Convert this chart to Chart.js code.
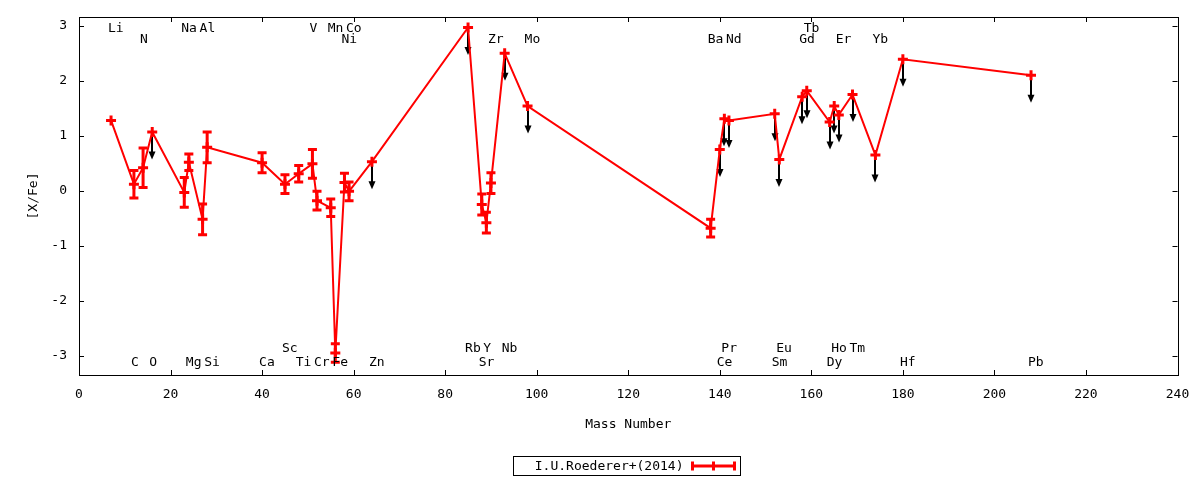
<!DOCTYPE html>
<html>
<head>
<meta charset="utf-8">
<script src="https://cdn.jsdelivr.net/npm/chart.js@4.4.1/dist/chart.umd.min.js"></script>
<style>
  body { margin: 0; background: #fff; }
</style>
</head>
<body>
<canvas id="myChart" width="1200" height="480"></canvas>
<script>
// abundance pattern, one entry per element (sorted by mass number)
const elements = ['Li','C','N','O','Na','Mg','Al','Si','Ca','Sc','Ti','V','Cr','Mn','Fe','Ni','Co','Zn',
  'Rb','Sr','Y','Zr','Nb','Mo','Ba','Ce','Pr','Nd','Sm','Eu','Gd','Tb','Dy','Ho','Er','Tm','Yb','Hf','Pb']
const massNumber = [7,12,14,16,23,24,27,28,40,45,48,51,52,55,56,58,59,64,
  85,88,89,90,93,98,138,140,141,142,152,153,158,159,164,165,166,169,174,180,208]
const xfe = [1.28,0.12,0.42,1.07,-0.03,0.52,-0.52,0.79,0.51,0.12,0.31,0.49,-0.18,-0.31,-2.95,0.15,-0.01,0.53,
  2.97,-0.25,-0.58,0.14,2.50,1.54,-0.68,0.75,1.31,1.28,1.40,0.57,1.71,1.82,1.25,1.54,1.38,1.75,0.65,2.39,2.10]
const xfeErr = [0,0.25,0.36,0,0.27,0.15,0.28,0.28,0.18,0.17,0.15,0.26,0.17,0.16,0.17,0.17,0.17,0,
  0,0.19,0.19,0.19,0,0,0.16,0,0,0,0,0,0,0,0,0,0,0,0,0,0]
const upperLimit = [0,0,0,1,0,0,0,0,0,0,0,0,0,0,0,0,0,1,
  1,0,0,0,1,1,0,1,1,1,1,1,1,1,1,1,1,1,1,1,1]
const arrowLength = 0.5

// element names written along the top and bottom of the plot
const labelText = ['Li','Na','Al','V','Mn','Co','Tb',
  'N','Ni','Zr','Mo','Ba','Nd','Gd','Er','Yb',
  'Sc','Rb','Y','Nb','Pr','Eu','Ho','Tm',
  'C','O','Mg','Si','Ca','Ti','Cr','Fe','Zn','Sr','Ce','Sm','Dy','Hf','Pb']
const labelMass = [7,23,27,51,55,59,159,
  14,58,90,98,138,142,158,166,174,
  45,85,89,93,141,153,165,169,
  12,16,24,28,40,48,52,56,64,88,140,152,164,180,208]
const labelY = [2.95,2.95,2.95,2.95,2.95,2.95,2.95,
  2.75,2.75,2.75,2.75,2.75,2.75,2.75,2.75,2.75,
  -2.87,-2.87,-2.87,-2.87,-2.87,-2.87,-2.87,-2.87,
  -3.13,-3.13,-3.13,-3.13,-3.13,-3.13,-3.13,-3.13,-3.13,-3.13,-3.13,-3.13,-3.13,-3.13,-3.13]

const xTicks = [0,20,40,60,80,100,120,140,160,180,200,220,240]
const yTicks = [-3,-2,-1,0,1,2,3]
const seriesName = 'I.U.Roederer+(2014)'

const FONT = '13px "DejaVu Sans Mono", monospace'
const RED = '#ff0000'

const gnuplotBits = {
  id: 'gnuplotBits',
  beforeDatasetsDraw(chart) {
    // upper limit arrows
    const ctx = chart.ctx, xs = chart.scales.x, ys = chart.scales.y
    ctx.save()
    ctx.strokeStyle = '#000'
    ctx.fillStyle = '#000'
    ctx.lineWidth = 2
    for (let i = 0; i < massNumber.length; i++) {
      if (!upperLimit[i]) continue
      const px = Math.round(xs.getPixelForValue(massNumber[i]))
      const y0 = ys.getPixelForValue(xfe[i])
      const y1 = ys.getPixelForValue(xfe[i] - arrowLength)
      ctx.beginPath()
      ctx.moveTo(px, y0)
      ctx.lineTo(px, y1 - 6)
      ctx.stroke()
      ctx.beginPath()
      ctx.moveTo(px - 3.5, y1 - 8)
      ctx.lineTo(px + 3.5, y1 - 8)
      ctx.lineTo(px, y1)
      ctx.closePath()
      ctx.fill()
    }
    ctx.restore()
  },
  afterDatasetsDraw(chart) {
    // error bars with caps
    const ctx = chart.ctx, xs = chart.scales.x, ys = chart.scales.y
    ctx.save()
    ctx.strokeStyle = RED
    ctx.lineWidth = 3
    for (let i = 0; i < massNumber.length; i++) {
      if (!xfeErr[i]) continue
      const px = xs.getPixelForValue(massNumber[i])
      const top = ys.getPixelForValue(xfe[i] + xfeErr[i])
      const bot = ys.getPixelForValue(xfe[i] - xfeErr[i])
      ctx.beginPath()
      ctx.moveTo(px, top); ctx.lineTo(px, bot)
      ctx.moveTo(px - 4.5, top); ctx.lineTo(px + 4.5, top)
      ctx.moveTo(px - 4.5, bot); ctx.lineTo(px + 4.5, bot)
      ctx.stroke()
    }
    ctx.restore()
  },
  afterDraw(chart) {
    const ctx = chart.ctx, xs = chart.scales.x, ys = chart.scales.y
    const a = chart.chartArea
    ctx.save()
    // border + inward ticks on all four sides
    ctx.strokeStyle = '#000'
    ctx.lineWidth = 1
    ctx.strokeRect(Math.round(a.left) + 0.5, Math.round(a.top) + 0.5,
      Math.round(a.right - a.left), Math.round(a.bottom - a.top))
    ctx.beginPath()
    xTicks.forEach(v => {
      const p = Math.round(xs.getPixelForValue(v)) + 0.5
      ctx.moveTo(p, a.bottom); ctx.lineTo(p, a.bottom - 5)
      ctx.moveTo(p, a.top); ctx.lineTo(p, a.top + 5)
    })
    yTicks.forEach(v => {
      const p = Math.round(ys.getPixelForValue(v)) + 0.5
      ctx.moveTo(a.left, p); ctx.lineTo(a.left + 5, p)
      ctx.moveTo(a.right, p); ctx.lineTo(a.right - 5, p)
    })
    ctx.stroke()

    // element names
    ctx.fillStyle = '#000'
    ctx.font = FONT
    ctx.textAlign = 'left'
    ctx.textBaseline = 'middle'
    for (let i = 0; i < labelText.length; i++) {
      ctx.fillText(labelText[i], xs.getPixelForValue(labelMass[i]) - 3, ys.getPixelForValue(labelY[i]))
    }

    // key box
    const kx = 513.5, ky = 456.5, kw = 227, kh = 19
    const mid = ky + kh / 2
    ctx.strokeRect(kx, ky, kw, kh)
    ctx.textAlign = 'right'
    ctx.fillText(seriesName, kx + 170, mid + 0.5)
    ctx.strokeStyle = RED
    ctx.lineWidth = 3
    ctx.beginPath()
    ctx.moveTo(kx + 179, mid); ctx.lineTo(kx + 221, mid)
    ctx.moveTo(kx + 179, mid - 4.5); ctx.lineTo(kx + 179, mid + 4.5)
    ctx.moveTo(kx + 200, mid - 4.5); ctx.lineTo(kx + 200, mid + 4.5)
    ctx.moveTo(kx + 221, mid - 4.5); ctx.lineTo(kx + 221, mid + 4.5)
    ctx.stroke()
    ctx.restore()
  }
}

const ctx = document.getElementById('myChart')

new Chart(ctx, {
  type: 'line',
  data: {
    datasets: [{
      label: seriesName,
      data: massNumber.map((m, i) => ({ x: m, y: xfe[i] })),
      borderColor: RED,
      backgroundColor: RED,
      borderWidth: 2,
      tension: 0,
      pointStyle: 'cross',
      pointRadius: 5,
      pointBorderWidth: 3,
      pointBorderColor: RED,
      pointHoverRadius: 5
    }]
  },
  options: {
    responsive: false,
    animation: false,
    devicePixelRatio: 1,
    layout: { padding: { top: 17, right: 22.5, bottom: 45, left: 0 } },
    plugins: {
      legend: { display: false },
      tooltip: { enabled: false }
    },
    scales: {
      x: {
        type: 'linear',
        min: 0,
        max: 240,
        grid: { display: false, drawTicks: false },
        border: { display: false },
        afterBuildTicks: s => { s.ticks = xTicks.map(v => ({ value: v })) },
        afterFit: s => { s.height = 60; s.paddingLeft = 0; s.paddingRight = 0 },
        ticks: {
          padding: 12,
          maxRotation: 0,
          color: '#000',
          font: { family: '"DejaVu Sans Mono", monospace', size: 13 }
        },
        title: {
          display: true,
          text: 'Mass Number',
          color: '#000',
          padding: { top: 0, bottom: 3 },
          font: { family: '"DejaVu Sans Mono", monospace', size: 13 }
        }
      },
      y: {
        type: 'linear',
        min: -3.35,
        max: 3.16,
        grid: { display: false, drawTicks: false },
        border: { display: false },
        afterBuildTicks: s => { s.ticks = yTicks.map(v => ({ value: v })) },
        afterFit: s => { s.width = 79; s.paddingTop = 0; s.paddingBottom = 0 },
        ticks: {
          padding: 12,
          color: '#000',
          font: { family: '"DejaVu Sans Mono", monospace', size: 13 }
        },
        title: {
          display: true,
          text: '[X/Fe]',
          color: '#000',
          padding: { top: 26, bottom: 0 },
          font: { family: '"DejaVu Sans Mono", monospace', size: 13 }
        }
      }
    }
  },
  plugins: [gnuplotBits]
})
</script>
</body>
</html>
